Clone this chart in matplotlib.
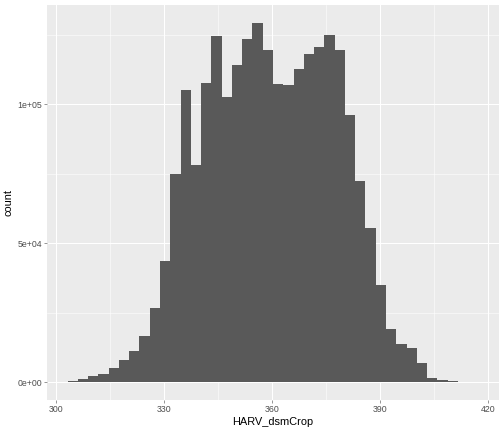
import numpy as np
import matplotlib
matplotlib.use('Agg')
import matplotlib.pyplot as plt

# histogram of HARV_dsmCrop, 40 bins
bin_start = 303.3
bin_width = 2.853
counts = [250, 1080, 2050, 2770, 5030, 7900, 11140, 16520, 26580, 43460,
          75080, 105250, 78300, 107650, 124640, 102620, 114230, 123570, 129310, 119610,
          107290, 106930, 112680, 118070, 120580, 125000, 119500, 96160, 72450, 55570,
          34840, 18930, 13540, 12100, 6720, 1330, 720, 250, 0, 0]

x_ticks = [300, 330, 360, 390, 420]
y_ticks = [0, 50000, 100000]
y_labels = ['0e+00', '5e+04', '1e+05']

counts = np.array(counts)
edges = bin_start + bin_width * np.arange(len(counts) + 1)

plt.rcParams['font.family'] = ['Liberation Sans', 'DejaVu Sans']

fig = plt.figure(figsize=(7, 6), dpi=72)
ax = fig.add_axes([47 / 504, 1 - 400 / 432, 452 / 504, 395 / 432])
ax.set_facecolor('#EBEBEB')

ax.bar(edges[:-1], counts, width=bin_width, align='edge', color='#595959', linewidth=0, zorder=3)

xr = edges[-1] - edges[0]
ax.set_xlim(edges[0] - 0.05 * xr, edges[-1] + 0.05 * xr)
ax.set_ylim(-0.05 * counts.max(), 1.05 * counts.max())

ax.set_xticks(x_ticks)
ax.set_yticks(y_ticks)
ax.set_yticklabels(y_labels)
ax.set_xticks([315, 345, 375, 405], minor=True)
ax.set_yticks([25000, 75000, 125000], minor=True)
ax.grid(which='major', color='white', linewidth=1.07, zorder=1)
ax.grid(which='minor', color='white', linewidth=0.53, zorder=1)
ax.set_axisbelow(True)

for s in ax.spines.values():
    s.set_visible(False)
ax.tick_params(which='major', length=2.75, width=0.5, color='#333333', labelcolor='#4D4D4D', labelsize=8.8, pad=2)
ax.tick_params(which='minor', length=0)

ax.set_xlabel('HARV_dsmCrop', fontsize=11, color='black', labelpad=3)
ax.set_ylabel('count', fontsize=11, color='black', labelpad=4)

plt.savefig('out.png', dpi=72)
